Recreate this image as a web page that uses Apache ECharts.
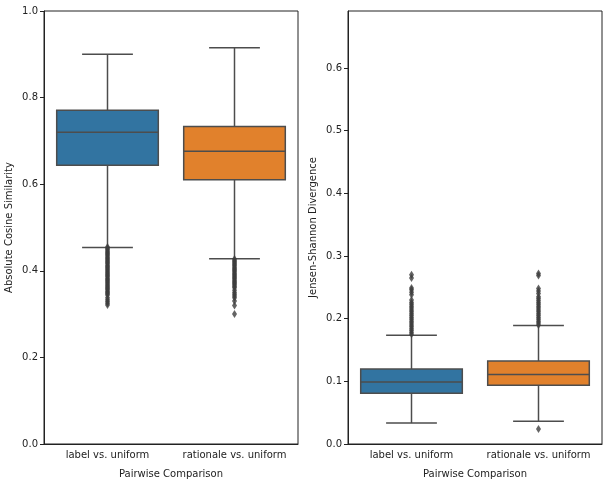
<!DOCTYPE html>
<html>
<head>
<meta charset="utf-8">
<script src="https://cdn.jsdelivr.net/npm/echarts@6/dist/echarts.min.js"></script>
<style>
  html, body { margin: 0; padding: 0; background: #fff; }
  #chart { width: 609px; height: 484px; }
</style>
</head>
<body>
<div id="chart"></div>
<script>
var categories = ['label vs. uniform', 'rationale vs. uniform']
var boxColors = ['#3274a1', '#e1812c']

// [lower whisker, Q1, median, Q3, upper whisker]
var cosStats = [
  [0.454, 0.644, 0.720, 0.771, 0.900],
  [0.428, 0.610, 0.676, 0.733, 0.915]
]
var jsdStats = [
  [0.0334, 0.081, 0.099, 0.1196, 0.1737],
  [0.0365, 0.0937, 0.111, 0.1324, 0.189]
]

// outliers
var cosOutLabel = [0.455, 0.452, 0.449, 0.446, 0.443, 0.440, 0.437, 0.434, 0.431, 0.428, 0.425, 0.422,
  0.419, 0.416, 0.413, 0.410, 0.407, 0.404, 0.401, 0.398, 0.395, 0.392, 0.389, 0.386, 0.383, 0.380,
  0.377, 0.374, 0.371, 0.368, 0.365, 0.362, 0.359, 0.356, 0.353, 0.350, 0.347, 0.344, 0.338, 0.333,
  0.329, 0.325, 0.321]
var cosOutRationale = [0.427, 0.424, 0.421, 0.418, 0.415, 0.412, 0.409, 0.406, 0.403, 0.400, 0.397,
  0.394, 0.391, 0.388, 0.385, 0.382, 0.379, 0.376, 0.373, 0.370, 0.367, 0.364, 0.361, 0.355, 0.350,
  0.346, 0.342, 0.338, 0.330, 0.320, 0.300]
var jsdOutLabel = [0.175, 0.178, 0.181, 0.184, 0.187, 0.190, 0.193, 0.196, 0.199, 0.202, 0.205,
  0.208, 0.211, 0.214, 0.217, 0.220, 0.223, 0.226, 0.230, 0.238, 0.242, 0.246, 0.249, 0.265, 0.270]
var jsdOutRationale = [0.190, 0.193, 0.196, 0.199, 0.202, 0.205, 0.208, 0.211, 0.214, 0.217, 0.220,
  0.223, 0.226, 0.229, 0.232, 0.235, 0.240, 0.244, 0.248, 0.269, 0.272, 0.024]

var cosTicks = [0, 0.2, 0.4, 0.6, 0.8, 1.0]
var jsdTicks = [0, 0.1, 0.2, 0.3, 0.4, 0.5, 0.6]

var lineColor = '#4d4d4d'
var font = 'DejaVu Sans'

function renderBox (params, api) {
  var x = api.value(0)
  var lo = api.coord([x, api.value(1)])
  var q1 = api.coord([x, api.value(2)])
  var med = api.coord([x, api.value(3)])
  var q3 = api.coord([x, api.value(4)])
  var hi = api.coord([x, api.value(5)])
  var band = api.size([1, 0])[0]
  var bw = band * 0.8
  var cw = bw / 2
  var cx = q1[0]
  var ls = { stroke: lineColor, lineWidth: 1.5 }
  return {
    type: 'group',
    children: [
      { type: 'line', shape: { x1: cx, y1: lo[1], x2: cx, y2: q1[1] }, style: ls },
      { type: 'line', shape: { x1: cx, y1: q3[1], x2: cx, y2: hi[1] }, style: ls },
      { type: 'line', shape: { x1: cx - cw / 2, y1: lo[1], x2: cx + cw / 2, y2: lo[1] }, style: ls },
      { type: 'line', shape: { x1: cx - cw / 2, y1: hi[1], x2: cx + cw / 2, y2: hi[1] }, style: ls },
      {
        type: 'rect',
        shape: { x: cx - bw / 2, y: q3[1], width: bw, height: q1[1] - q3[1] },
        style: { fill: boxColors[x], stroke: lineColor, lineWidth: 1.5 }
      },
      { type: 'line', shape: { x1: cx - bw / 2, y1: med[1], x2: cx + bw / 2, y2: med[1] }, style: ls }
    ]
  }
}

function boxData (stats) {
  return stats.map(function (s, i) { return [i].concat(s) })
}
function outData (a, b) {
  return a.map(function (v) { return [0, v] }).concat(b.map(function (v) { return [1, v] }))
}

function xAxisCfg (idx) {
  return {
    type: 'category',
    gridIndex: idx,
    data: categories,
    name: 'Pairwise Comparison',
    nameLocation: 'middle',
    nameGap: 25,
    nameTextStyle: { color: '#222', fontSize: 10, fontFamily: font },
    axisLine: { lineStyle: { color: '#222', width: 1 } },
    axisTick: { alignWithLabel: true, length: 4, lineStyle: { color: '#222' } },
    axisLabel: { color: '#222', fontSize: 10, fontFamily: font, margin: 6, interval: 0, hideOverlap: false },
    splitLine: { show: false }
  }
}

function yAxisCfg (idx, name, max, ticks, gap) {
  return {
    type: 'value',
    gridIndex: idx,
    min: 0,
    max: max,
    name: name,
    nameLocation: 'middle',
    nameGap: gap,
    nameTextStyle: { color: '#222', fontSize: 10, fontFamily: font },
    axisLine: { show: true, lineStyle: { color: '#222', width: 1 } },
    axisTick: { show: true, length: 4, customValues: ticks, lineStyle: { color: '#222' } },
    axisLabel: {
      color: '#222', fontSize: 10, fontFamily: font, margin: 6,
      customValues: ticks,
      formatter: function (v) { return v.toFixed(1) }
    },
    splitLine: { show: false }
  }
}

var myChart = echarts.init(document.getElementById('chart'), null, { renderer: 'canvas' })
var option = {
  backgroundColor: '#fff',
  animation: false,
  grid: [
    { left: 44, right: 311, top: 11, bottom: 38, show: true, borderColor: '#222', borderWidth: 1 },
    { left: 348, right: 7, top: 11, bottom: 38, show: true, borderColor: '#222', borderWidth: 1 }
  ],
  xAxis: [xAxisCfg(0), xAxisCfg(1)],
  yAxis: [
    yAxisCfg(0, 'Absolute Cosine Similarity', 1, cosTicks, 30),
    yAxisCfg(1, 'Jensen-Shannon Divergence', 0.691, jsdTicks, 30)
  ],
  series: [
    {
      type: 'custom',
      xAxisIndex: 0,
      yAxisIndex: 0,
      renderItem: renderBox,
      encode: { x: 0, y: [1, 2, 3, 4, 5] },
      data: boxData(cosStats)
    },
    {
      type: 'scatter',
      xAxisIndex: 0,
      yAxisIndex: 0,
      symbol: 'diamond',
      symbolSize: [5, 8],
      itemStyle: { color: '#3d3d3d' },
      data: outData(cosOutLabel, cosOutRationale)
    },
    {
      type: 'custom',
      xAxisIndex: 1,
      yAxisIndex: 1,
      renderItem: renderBox,
      encode: { x: 0, y: [1, 2, 3, 4, 5] },
      data: boxData(jsdStats)
    },
    {
      type: 'scatter',
      xAxisIndex: 1,
      yAxisIndex: 1,
      symbol: 'diamond',
      symbolSize: [5, 8],
      itemStyle: { color: '#3d3d3d' },
      data: outData(jsdOutLabel, jsdOutRationale)
    }
  ]
}
myChart.setOption(option)
</script>
</body>
</html>
